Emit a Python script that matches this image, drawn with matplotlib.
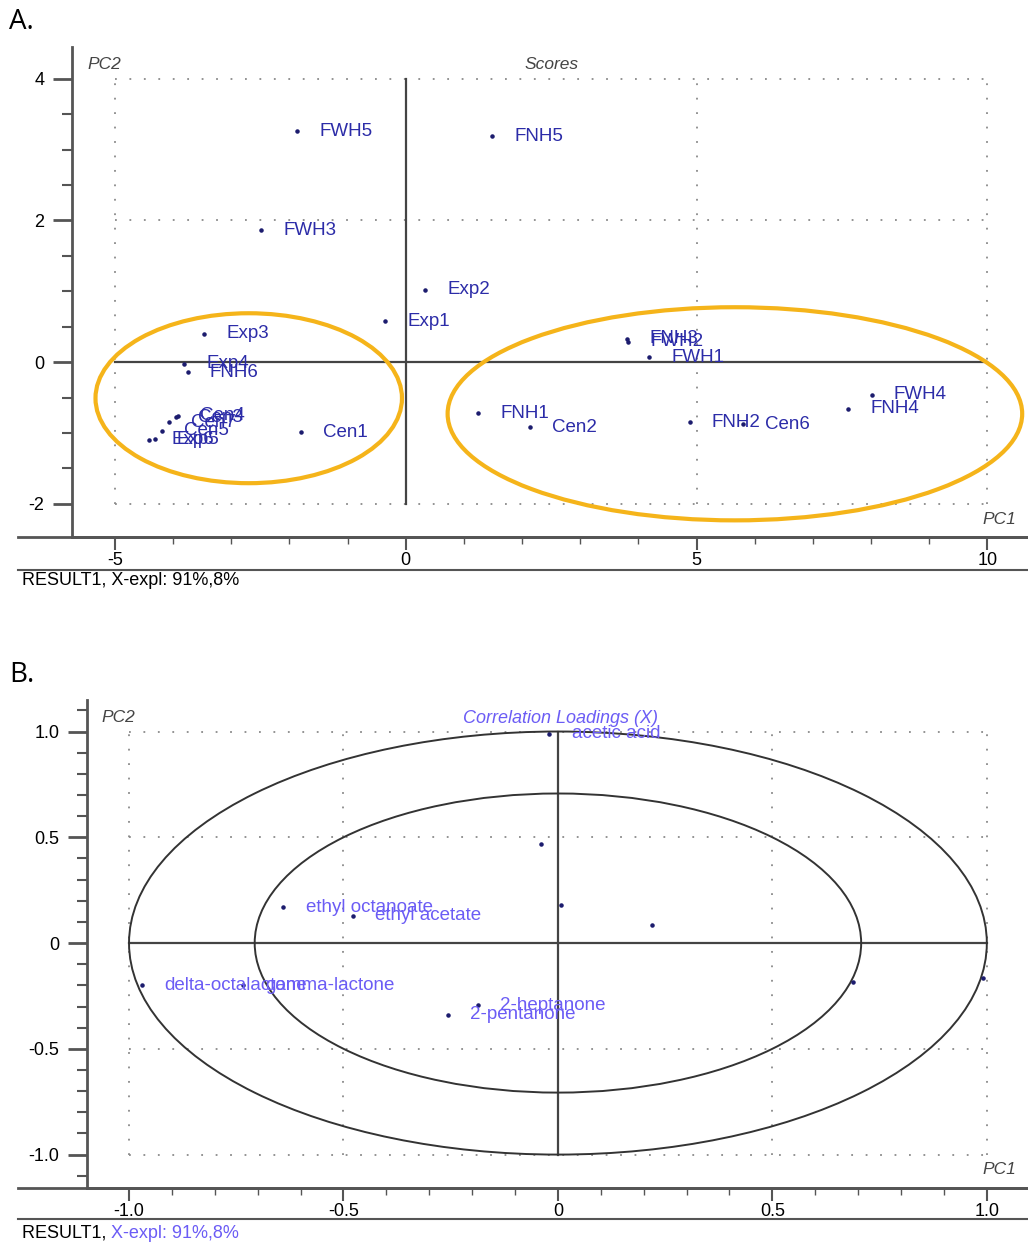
import matplotlib
matplotlib.use('Agg')
import matplotlib.pyplot as plt
from matplotlib.patches import Ellipse
from matplotlib.lines import Line2D
from matplotlib.ticker import MultipleLocator

plt.rcParams['font.family'] = ['Liberation Sans', 'DejaVu Sans']
plt.rcParams['axes.unicode_minus'] = False

# --- A. scores ---
score_names = ['FWH5', 'FNH5', 'FWH3', 'Exp2', 'Exp1', 'Exp3', 'Exp4', 'FNH6', 'Cen1',
               'Cen3', 'Cen4', 'Cen7', 'Cen5', 'Exp5', 'Exp6',
               'FNH3', 'FWH2', 'FWH1', 'FNH1', 'Cen2', 'FNH2', 'Cen6', 'FWH4', 'FNH4']
score_pc1 = [-1.87, 1.49, -2.49, 0.33, -0.36, -3.47, -3.81, -3.75, -1.80,
             -3.95, -3.92, -4.07, -4.19, -4.32, -4.41,
             3.81, 3.83, 4.18, 1.25, 2.13, 4.88, 5.80, 8.01, 7.61]
score_pc2 = [3.26, 3.19, 1.86, 1.02, 0.58, 0.40, -0.02, -0.14, -0.99,
             -0.78, -0.76, -0.85, -0.97, -1.09, -1.10,
             0.33, 0.29, 0.07, -0.72, -0.92, -0.85, -0.88, -0.46, -0.66]
# group ellipses (center x, center y, width, height)
groups = [(-2.70, -0.51, 5.27, 2.40), (5.66, -0.73, 9.88, 3.01)]

# --- B. correlation loadings ---
load_names = ['acetic acid', '', '', '', '', '', 'ethyl octanoate', 'ethyl acetate',
              'delta-octalactone', 'gamma-lactone', '2-heptanone', '2-pentanone']
load_pc1 = [-0.02, -0.04, 0.007, 0.22, 0.688, 0.991, -0.64, -0.478, -0.97, -0.735, -0.187, -0.257]
load_pc2 = [0.99, 0.47, 0.18, 0.085, -0.185, -0.165, 0.17, 0.128, -0.20, -0.20, -0.293, -0.34]
circle_r = [1.0, 0.707]

W, H = 1028, 1243
fig = plt.figure(figsize=(W / 100, H / 100), dpi=100)

def px(x, y):
    return x / W, 1 - y / H

axis_col = '#555555'
grid_col = '#8a8a8a'
dot_col = '#1c1c6e'
lab_top = '#2c2ca8'
lab_bot = '#6b5cf5'
orange = '#f5b41a'

def style(ax, ylen):
    for s in ['top', 'right']:
        ax.spines[s].set_visible(False)
    for s in ['left', 'bottom']:
        ax.spines[s].set_color(axis_col)
        ax.spines[s].set_linewidth(2)
    ax.tick_params(axis='y', which='major', length=ylen, width=2, color=axis_col,
                   labelsize=13, pad=6)
    ax.tick_params(axis='y', which='minor', length=ylen / 2, width=1.5, color=axis_col)
    ax.tick_params(axis='x', which='major', length=9, width=1.5, color=axis_col,
                   labelsize=13, pad=2)
    ax.tick_params(axis='x', which='minor', length=5, width=1, color=axis_col)

def grid(ax, xs, ys, xr, yr):
    for x in xs:
        ax.plot([x, x], yr, color=grid_col, lw=1.3, ls=(0, (1, 7)), zorder=1)
    for y in ys:
        ax.plot(xr, [y, y], color=grid_col, lw=1.3, ls=(0, (1, 7)), zorder=1)
    ax.plot([0, 0], yr, color='#444444', lw=1.6, zorder=2)
    ax.plot(xr, [0, 0], color='#444444', lw=1.6, zorder=2)

# ---------- panel A ----------
ax1 = fig.add_axes([72 / W, 1 - 537 / H, (W - 72) / W, 490 / H])
ax1.set_xlim(-5.739, 10.70)
ax1.set_ylim(-2.47, 4.45)
style(ax1, 14)
ax1.xaxis.set_major_locator(MultipleLocator(5))
ax1.xaxis.set_minor_locator(MultipleLocator(1))
ax1.yaxis.set_major_locator(MultipleLocator(2))
ax1.yaxis.set_minor_locator(MultipleLocator(0.5))
grid(ax1, [-5, 5, 10], [4, 2, -2], [-5, 10], [-2, 4])

ax1.scatter(score_pc1, score_pc2, s=5, color=dot_col, zorder=4)
for n, x, y in zip(score_names, score_pc1, score_pc2):
    ax1.annotate(n, (x, y), xytext=(16, 0), textcoords='offset points',
                 va='center', ha='left', fontsize=13.5, color=lab_top, zorder=5)
for cx, cy, w, h in groups:
    ax1.add_patch(Ellipse((cx, cy), w, h, fill=False, ec=orange, lw=3, zorder=3))

ax1.text(0.502, 0.965, 'Scores', transform=ax1.transAxes, ha='center', va='center',
         fontsize=12.5, style='italic', color='#444444')
ax1.text(0.034, 0.965, 'PC2', transform=ax1.transAxes, ha='center', va='center',
         fontsize=12.5, style='italic', color='#444444')
ax1.text(0.970, 0.035, 'PC1', transform=ax1.transAxes, ha='center', va='center',
         fontsize=12.5, style='italic', color='#444444')

# ---------- panel B ----------
ax2 = fig.add_axes([87 / W, 1 - 1188 / H, (W - 87) / W, 488 / H])
ax2.set_xlim(-1.098, 1.096)
ax2.set_ylim(-1.158, 1.149)
style(ax2, 14)
ax2.xaxis.set_major_locator(MultipleLocator(0.5))
ax2.xaxis.set_minor_locator(MultipleLocator(0.1))
ax2.yaxis.set_major_locator(MultipleLocator(0.5))
ax2.yaxis.set_minor_locator(MultipleLocator(0.1))
fmt = lambda v, p: '0' if abs(v) < 1e-9 else f'{v:.1f}'
ax2.xaxis.set_major_formatter(plt.FuncFormatter(fmt))
ax2.yaxis.set_major_formatter(plt.FuncFormatter(fmt))
grid(ax2, [-1, -0.5, 0.5, 1], [1, 0.5, -0.5, -1], [-1, 1], [-1, 1])
for r in circle_r:
    ax2.add_patch(Ellipse((0, 0), 2 * r, 2 * r, fill=False, ec='#333333', lw=1.4, zorder=3))

ax2.scatter(load_pc1, load_pc2, s=5, color=dot_col, zorder=4)
for n, x, y in zip(load_names, load_pc1, load_pc2):
    if n:
        ax2.annotate(n, (x, y), xytext=(16, 0), textcoords='offset points',
                     va='center', ha='left', fontsize=13.5, color=lab_bot, zorder=5)

ax2.text(0.503, 0.963, 'Correlation Loadings (X)', transform=ax2.transAxes, ha='center',
         va='center', fontsize=13, style='italic', color=lab_bot)
ax2.text(0.033, 0.965, 'PC2', transform=ax2.transAxes, ha='center', va='center',
         fontsize=12.5, style='italic', color='#444444')
ax2.text(0.970, 0.037, 'PC1', transform=ax2.transAxes, ha='center', va='center',
         fontsize=12.5, style='italic', color='#444444')

# frame lines and footers
for y0, y1 in [(537, 570), (1188, 1219)]:
    for yy in (y0, y1):
        a, b = px(18, yy)
        c, d = px(W, yy)
        fig.add_artist(Line2D([a, c], [b, d], color=axis_col, lw=2 if yy == y0 else 1.5))

fig.text(*px(22, 580), 'RESULT1, X-expl: 91%,8%', ha='left', va='center', fontsize=13)
t = fig.text(*px(22, 1233), 'RESULT1, ', ha='left', va='center', fontsize=13)
fig.canvas.draw()
fig.text(t.get_window_extent().x1 / W, 1 - 1233 / H, 'X-expl: 91%,8%', ha='left',
         va='center', fontsize=13, color=lab_bot)

fig.text(*px(9, 22), 'A.', ha='left', va='center', fontsize=20, family=['Open Sans', 'DejaVu Sans'])
fig.text(*px(9, 675), 'B.', ha='left', va='center', fontsize=20, family=['Open Sans', 'DejaVu Sans'])

fig.savefig('out.png', dpi=100, facecolor='white')
